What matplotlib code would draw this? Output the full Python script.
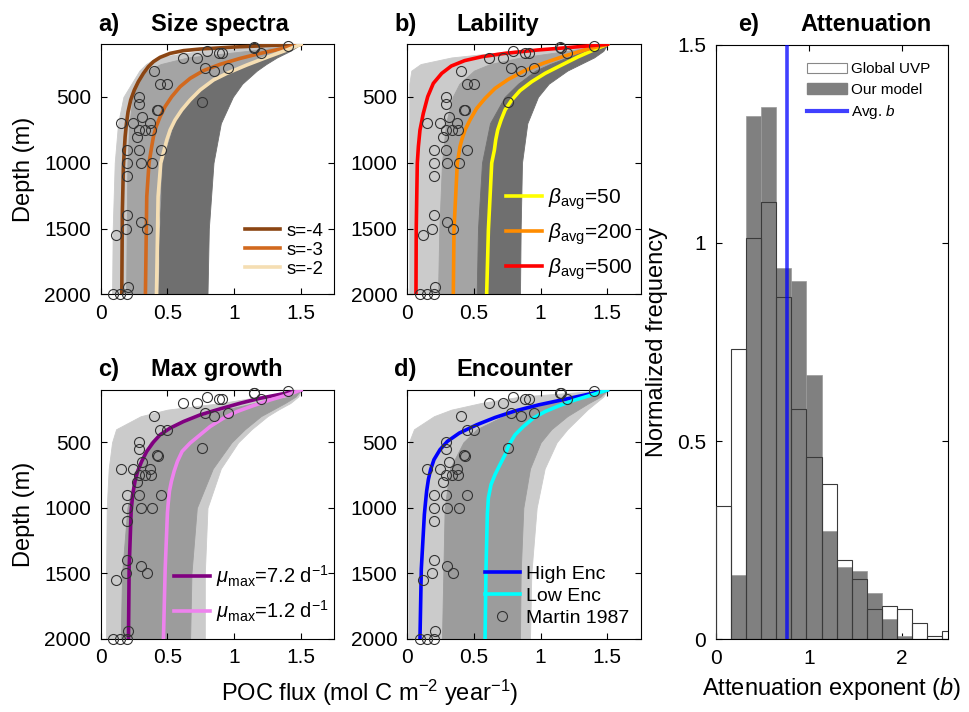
import matplotlib
matplotlib.use('Agg')
import matplotlib.pyplot as plt
from matplotlib.patches import Patch
from matplotlib.lines import Line2D

plt.rcParams['font.family'] = ['Liberation Sans', 'DejaVu Sans']
plt.rcParams['mathtext.fontset'] = 'custom'
plt.rcParams['mathtext.rm'] = 'Liberation Sans'
plt.rcParams['mathtext.it'] = 'Liberation Sans:italic'
plt.rcParams['mathtext.bf'] = 'Liberation Sans:bold'

# ---- observations (Martin 1987), flux vs depth, same in every panel
obs_flux = [1.40, 1.145, 1.15, 1.20, 0.795, 0.615, 0.72, 0.885, 0.91, 0.78, 0.85, 0.95,
            0.40, 0.447, 0.50, 0.287, 0.287, 0.757, 0.425, 0.43, 0.15, 0.312, 0.245, 0.37,
            0.27, 0.29, 0.335, 0.38, 0.197, 0.287, 0.45, 0.197, 0.30, 0.387, 0.197,
            0.197, 0.187, 0.30, 0.345, 0.115, 0.207, 0.095, 0.147, 0.197]
obs_depth = [110, 123, 126, 168, 151, 202, 202, 168, 168, 278, 301, 278,
             301, 404, 404, 501, 554, 541, 599, 601, 700, 650, 700, 700,
             802, 751, 751, 751, 903, 903, 903, 1004, 1004, 1004, 1098,
             1397, 1501, 1448, 1501, 1549, 1942, 2000, 2000, 2000]

# ---- ensemble envelopes, common depth grid
band_depth = [100, 150, 200, 250, 300, 400, 500, 700, 1000, 1500, 2000]

a_light_left = [1.5, 0.75, 0.42, 0.34, 0.29, 0.23, 0.17, 0.13, 0.105, 0.09, 0.085]
a_light_right = [1.5, 1.15, 0.7, 0.5, 0.4, 0.32, 0.29, 0.265, 0.25, 0.245, 0.24]
a_mid_left = [1.5, 1.1, 0.65, 0.45, 0.35, 0.27, 0.24, 0.215, 0.2, 0.195, 0.19]
a_mid_right = [1.5, 1.38, 1.24, 1.1, 0.98, 0.8, 0.68, 0.55, 0.46, 0.43, 0.42]
a_dark_left = [1.5, 1.38, 1.24, 1.1, 0.98, 0.8, 0.68, 0.55, 0.46, 0.44, 0.43]
a_dark_right = [1.5, 1.42, 1.32, 1.24, 1.17, 1.06, 0.99, 0.9, 0.845, 0.81, 0.8]

b_light_left = [1.5, 0.8, 0.33, 0.1, 0.03, 0.015, 0.015, 0.015, 0.015, 0.015, 0.015]
b_light_right = [1.5, 1.25, 0.9, 0.67, 0.55, 0.44, 0.39, 0.34, 0.31, 0.29, 0.28]
b_mid_left = [1.5, 1.2, 0.85, 0.62, 0.5, 0.39, 0.34, 0.29, 0.26, 0.24, 0.23]
b_mid_right = [1.5, 1.33, 1.2, 1.07, 0.96, 0.83, 0.73, 0.62, 0.56, 0.53, 0.52]
b_dark_left = [1.5, 1.33, 1.2, 1.07, 0.96, 0.83, 0.73, 0.62, 0.56, 0.53, 0.52]
b_dark_right = [1.5, 1.47, 1.4, 1.3, 1.2, 1.06, 0.98, 0.9, 0.86, 0.85, 0.845]

c_light_left = [1.5, 1.2, 0.9, 0.5, 0.3, 0.115, 0.085, 0.06, 0.045, 0.04, 0.04]
c_light_right = [1.5, 1.48, 1.42, 1.33, 1.25, 1.13, 1.03, 0.9, 0.8, 0.78, 0.78]
c_mid_left = [1.5, 1.42, 1.15, 0.93, 0.75, 0.48, 0.37, 0.27, 0.2, 0.16, 0.15]
c_mid_right = [1.5, 1.46, 1.38, 1.29, 1.2, 1.08, 0.98, 0.84, 0.72, 0.68, 0.67]

d_light_left = [1.5, 0.85, 0.55, 0.33, 0.2, 0.05, 0.012, 0.008, 0.008, 0.008, 0.008]
d_light_right = [1.5, 1.47, 1.41, 1.35, 1.3, 1.2, 1.12, 1.03, 0.97, 0.93, 0.92]
d_mid_left = [1.5, 1.3, 1.05, 0.86, 0.72, 0.52, 0.42, 0.32, 0.28, 0.27, 0.26]
d_mid_right = [1.5, 1.45, 1.36, 1.28, 1.2, 1.08, 1.0, 0.92, 0.87, 0.85, 0.845]

# ---- highlighted model runs
a_s4_depth = [100, 110, 121, 136, 148, 169, 199, 232, 270, 321, 384, 447, 523, 612, 701, 802, 903, 1030, 1384, 2000]
a_s4_flux = [1.5, 1.245, 0.995, 0.745, 0.62, 0.52, 0.445, 0.395, 0.357, 0.32, 0.282, 0.252, 0.225, 0.205, 0.193, 0.183, 0.177, 0.17, 0.162, 0.158]
a_s3_depth = [100, 136, 169, 207, 252, 300, 359, 422, 498, 574, 650, 727, 802, 878, 1002, 1258, 2000]
a_s3_flux = [1.5, 1.345, 1.195, 1.045, 0.895, 0.77, 0.67, 0.595, 0.532, 0.482, 0.445, 0.415, 0.395, 0.382, 0.362, 0.345, 0.335]
a_s2_depth = [100, 143, 199, 257, 321, 371, 447, 523, 599, 675, 751, 827, 878, 1002, 1258, 2000]
a_s2_flux = [1.5, 1.395, 1.245, 1.095, 0.945, 0.845, 0.745, 0.67, 0.607, 0.557, 0.52, 0.495, 0.482, 0.45, 0.43, 0.418]

b_50_depth = [100, 138, 194, 257, 321, 384, 452, 523, 599, 675, 751, 827, 903, 1002, 1511, 2000]
b_50_flux = [1.5, 1.408, 1.283, 1.158, 1.033, 0.933, 0.845, 0.783, 0.733, 0.703, 0.678, 0.663, 0.653, 0.633, 0.608, 0.595]
b_200_depth = [100, 143, 189, 240, 300, 366, 435, 511, 587, 675, 751, 827, 878, 1002, 1511, 2000]
b_200_flux = [1.5, 1.33, 1.18, 1.03, 0.88, 0.758, 0.658, 0.583, 0.52, 0.47, 0.433, 0.408, 0.395, 0.375, 0.35, 0.345]
b_500_depth = [100, 123, 143, 169, 194, 224, 265, 321, 397, 498, 625, 752, 878, 1002, 1500, 2000]
b_500_flux = [1.5, 1.23, 0.98, 0.73, 0.56, 0.43, 0.33, 0.258, 0.195, 0.153, 0.12, 0.095, 0.083, 0.075, 0.067, 0.065]

c_fast_depth = [100, 133, 163, 201, 244, 290, 341, 391, 442, 498, 569, 645, 721, 797, 898, 1025, 1468, 2000]
c_fast_flux = [1.5, 1.345, 1.195, 1.045, 0.895, 0.745, 0.62, 0.52, 0.445, 0.395, 0.345, 0.307, 0.277, 0.257, 0.24, 0.228, 0.213, 0.208]
c_slow_depth = [100, 138, 176, 219, 265, 315, 379, 442, 505, 569, 645, 721, 797, 873, 974, 1037, 1468, 2000]
c_slow_flux = [1.5, 1.395, 1.27, 1.145, 1.02, 0.92, 0.82, 0.745, 0.67, 0.61, 0.575, 0.55, 0.53, 0.515, 0.505, 0.5, 0.483, 0.47]

d_high_depth = [100, 138, 176, 214, 260, 310, 366, 429, 493, 556, 632, 708, 784, 873, 974, 1050, 1468, 2000]
d_high_flux = [1.5, 1.333, 1.158, 0.983, 0.808, 0.658, 0.52, 0.39, 0.30, 0.245, 0.2, 0.175, 0.158, 0.145, 0.135, 0.128, 0.105, 0.095]
d_low_depth = [100, 138, 176, 222, 265, 315, 379, 442, 518, 594, 670, 746, 822, 923, 1050, 1468, 2000]
d_low_flux = [1.5, 1.383, 1.258, 1.133, 1.033, 0.945, 0.87, 0.808, 0.763, 0.733, 0.695, 0.658, 0.628, 0.608, 0.6, 0.59, 0.583]

# ---- panel e histogram
bin_left = [0.0, 0.1625, 0.325, 0.4875, 0.65, 0.8125, 0.975, 1.1375, 1.3, 1.4625,
            1.625, 1.7875, 1.95, 2.1125, 2.275, 2.4375]
bin_width = 0.1625
model_freq = [0, 0.162, 1.321, 1.343, 0.937, 0.904, 0.668, 0.274, 0.183, 0.172,
              0.117, 0.05, 0.008, 0, 0, 0]
uvp_freq = [0.336, 0.732, 1.013, 1.102, 0.863, 0.582, 0.46, 0.391, 0.2, 0.151,
            0.076, 0.083, 0.076, 0.041, 0.008, 0.02]
avg_b = 0.765

W, H = 969, 712
fig = plt.figure(figsize=(W / 100, H / 100), dpi=100)


def px_axes(left, top, right, bottom):
    return fig.add_axes([left / W, 1 - bottom / H, (right - left) / W, (bottom - top) / H])


def style(ax):
    ax.tick_params(direction='in', top=True, right=True, length=4, width=0.8,
                   labelsize=15, pad=7)
    for s in ax.spines.values():
        s.set_linewidth(0.8)


def profile_axes(ax):
    ax.set_xlim(0, 1.75)
    ax.set_ylim(2000, 100)
    ax.set_xticks([0, 0.5, 1, 1.5])
    ax.set_xticklabels(['0', '0.5', '1', '1.5'])
    ax.set_yticks([500, 1000, 1500, 2000])
    style(ax)


def band(ax, left, right, color):
    ax.fill_betweenx(band_depth, left, right, color=color, lw=0.6, zorder=1)


def circles(ax, label=None):
    ax.plot(obs_flux, obs_depth, 'o', ms=7.2, mfc='none', mec='#333333', mew=0.8,
            zorder=5, clip_on=False, label=label)


LIGHT, MID, DARK, MID2 = '#cbcbcb', '#a4a4a4', '#6f6f6f', '#9c9c9c'
LW = 2.6

ax_a = px_axes(100.7, 44.3, 334.3, 294.3)
ax_b = px_axes(407.3, 44.3, 640.7, 294.3)
ax_c = px_axes(100.7, 390, 334.3, 638.7)
ax_d = px_axes(407.3, 390, 640.7, 638.7)
ax_e = px_axes(715.7, 44.7, 948.3, 639.3)

# a) size spectra
band(ax_a, a_light_left, a_light_right, LIGHT)
band(ax_a, a_mid_left, a_mid_right, MID)
band(ax_a, a_dark_left, a_dark_right, DARK)
ax_a.plot(a_s4_flux, a_s4_depth, color='#8B4513', lw=LW, label='s=-4', zorder=3)
ax_a.plot(a_s3_flux, a_s3_depth, color='#D2691E', lw=LW, label='s=-3', zorder=3)
ax_a.plot(a_s2_flux, a_s2_depth, color='#F5DEB3', lw=LW, label='s=-2', zorder=3)
circles(ax_a)
profile_axes(ax_a)
ax_a.legend(loc='lower right', bbox_to_anchor=(1.0, 0.02), frameon=False, fontsize=13.5,
            handlelength=1.9, handletextpad=0.3, labelspacing=0.1, borderaxespad=0.2)

# b) lability
band(ax_b, b_light_left, b_light_right, LIGHT)
band(ax_b, b_mid_left, b_mid_right, MID)
band(ax_b, b_dark_left, b_dark_right, DARK)
ax_b.plot(b_50_flux, b_50_depth, color='#FFFF00', lw=LW, label=r'$\beta_{\rm avg}$=50', zorder=3)
ax_b.plot(b_200_flux, b_200_depth, color='#FF8C00', lw=LW, label=r'$\beta_{\rm avg}$=200', zorder=3)
ax_b.plot(b_500_flux, b_500_depth, color='#FF0000', lw=LW, label=r'$\beta_{\rm avg}$=500', zorder=3)
circles(ax_b)
profile_axes(ax_b)
ax_b.legend(loc='lower right', bbox_to_anchor=(1.02, 0.0), frameon=False, fontsize=15,
            handlelength=1.7, handletextpad=0.3, labelspacing=0.45, borderaxespad=0.2)

# c) max growth
band(ax_c, c_light_left, c_light_right, LIGHT)
band(ax_c, c_mid_left, c_mid_right, MID2)
ax_c.plot(c_fast_flux, c_fast_depth, color='#800080', lw=LW,
          label=r'$\mu_{\rm max}$=7.2 d$^{-1}$', zorder=3)
ax_c.plot(c_slow_flux, c_slow_depth, color='#EE82EE', lw=LW,
          label=r'$\mu_{\rm max}$=1.2 d$^{-1}$', zorder=3)
circles(ax_c)
profile_axes(ax_c)
ax_c.legend(loc='lower right', bbox_to_anchor=(1.03, 0.01), frameon=False, fontsize=14.5,
            handlelength=1.8, handletextpad=0.3, labelspacing=0.45, borderaxespad=0.2)

# d) encounter
band(ax_d, d_light_left, d_light_right, LIGHT)
band(ax_d, d_mid_left, d_mid_right, MID2)
ax_d.plot(d_high_flux, d_high_depth, color='#0000FF', lw=LW, label='High Enc', zorder=3)
ax_d.plot(d_low_flux, d_low_depth, color='#00FFFF', lw=LW, label='Low Enc', zorder=3)
circles(ax_d, label='Martin 1987')
profile_axes(ax_d)
ax_d.legend(loc='lower right', bbox_to_anchor=(1.0, 0.0), frameon=False, fontsize=14,
            handlelength=1.8, handletextpad=0.3, labelspacing=0.22, borderaxespad=0.2)

# e) attenuation histogram
ax_e.bar(bin_left, model_freq, width=bin_width, align='edge', color='#808080',
         edgecolor='#9a9a9a', linewidth=0.5, zorder=2)
ax_e.bar(bin_left, uvp_freq, width=bin_width, align='edge', facecolor='none',
         edgecolor='#3a3a3a', linewidth=0.8, zorder=3)
ax_e.axvline(avg_b, color='blue', alpha=0.75, lw=2.6, zorder=4)
ax_e.set_xlim(0, 2.5)
ax_e.set_ylim(0, 1.5)
ax_e.set_xticks([0, 1, 2])
ax_e.set_xticklabels(['0', '1', '2'])
ax_e.set_yticks([0, 0.5, 1, 1.5])
ax_e.set_yticklabels(['0', '0.5', '1', '1.5'])
style(ax_e)
handles = [Patch(facecolor='white', edgecolor='#888888', lw=0.8),
           Patch(facecolor='#808080', edgecolor='#808080'),
           Line2D([], [], color='blue', alpha=0.75, lw=3)]
ax_e.legend(handles, ['Global UVP', 'Our model', r'Avg. $b$'], loc='upper right',
            frameon=False, fontsize=11, handlelength=2.6, handletextpad=0.3,
            labelspacing=0.42, borderaxespad=0.75)

# titles and axis labels
def ftext(x, y, s, **kw):
    fig.text(x / W, 1 - y / H, s, **kw)


tkw = dict(fontsize=17, fontweight='bold', va='baseline', ha='left')
ftext(98, 31, 'a)', **tkw)
ftext(151, 31, 'Size spectra', **tkw)
ftext(394, 31, 'b)', **tkw)
ftext(456, 31, 'Lability', **tkw)
ftext(98, 376, 'c)', **tkw)
ftext(151, 376, 'Max growth', **tkw)
ftext(394, 376, 'd)', **tkw)
ftext(456, 376, 'Encounter', **tkw)
ftext(738, 31, 'e)', **tkw)
ftext(800, 31, 'Attenuation', **tkw)

lkw = dict(fontsize=17, ha='center', va='center')
ftext(24, 169, 'Depth (m)', rotation=90, **lkw)
ftext(24, 514, 'Depth (m)', rotation=90, **lkw)
ftext(370, 693, r'POC flux (mol C m$^{-2}$ year$^{-1}$)', **lkw)
ftext(657, 342, 'Normalized frequency', rotation=90, **lkw)
ftext(832, 689, r'Attenuation exponent ($b$)', **lkw)

fig.savefig('out.png', dpi=100)
